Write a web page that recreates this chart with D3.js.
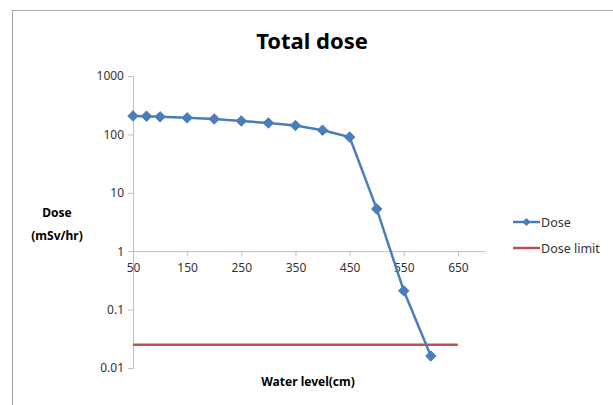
<!DOCTYPE html>
<html>
<head>
<meta charset="utf-8">
<script src="https://cdn.jsdelivr.net/npm/d3@7"></script>
<style>
  body { margin: 0; background: #fff; }
  text { font-family: "Noto Sans", "DejaVu Sans", sans-serif; fill: #333; }
</style>
</head>
<body>
<svg id="chart" width="613" height="405"></svg>
<script>
// water level (cm) and dose (mSv/hr)
const levels = [50, 75, 100, 150, 200, 250, 300, 350, 400, 450, 500, 550, 600];
const doses = [207, 205, 200, 192, 184, 170, 157, 142, 118, 90, 5.3, 0.21, 0.016];
const limitLevels = [50, 650];
const limitDose = [0.025, 0.025];
const xTicks = [50, 150, 250, 350, 450, 550, 650];
const yTicks = [0.01, 0.1, 1, 10, 100, 1000];

const svg = d3.select('#chart');

// chart border
svg.append('rect')
    .attr('x', 12.5).attr('y', 10.5)
    .attr('width', 640).attr('height', 420)
    .attr('fill', 'none')
    .attr('stroke', '#a6a6a6');

const x = d3.scaleLinear().domain([50, 700]).range([133, 485]);
const y = d3.scaleLog().domain([0.01, 1000]).range([368, 76]);

// y axis
const yAxis = svg.append('g')
    .attr('transform', `translate(${x(50)},0)`)
    .call(d3.axisLeft(y).tickValues(yTicks).tickSize(5).tickFormat(d => d3.format('~g')(d)));
yAxis.select('.domain').attr('stroke', '#bfbfbf');
yAxis.selectAll('.tick line').attr('stroke', '#bfbfbf');
yAxis.selectAll('.tick text').attr('font-size', 12).attr('x', -9);

// x axis crosses at 1
const xAxis = svg.append('g')
    .attr('transform', `translate(0,${y(1)})`)
    .call(d3.axisBottom(x).tickValues(xTicks).tickSize(5).tickSizeOuter(0));
xAxis.select('.domain').attr('stroke', '#bfbfbf');
xAxis.selectAll('.tick line').attr('stroke', '#bfbfbf');
xAxis.selectAll('.tick text').attr('font-size', 12).attr('y', 12);

// dose limit line
const limitData = limitLevels.map((l, i) => [l, limitDose[i]]);
svg.append('path')
    .datum(limitData)
    .attr('fill', 'none')
    .attr('stroke', '#c0504d')
    .attr('stroke-width', 2.5)
    .attr('d', d3.line().x(d => x(d[0])).y(d => y(d[1])));

// dose line
const doseData = levels.map((l, i) => [l, doses[i]]);
svg.append('path')
    .datum(doseData)
    .attr('fill', 'none')
    .attr('stroke', '#4a7ebb')
    .attr('stroke-width', 2.5)
    .attr('d', d3.line().x(d => x(d[0])).y(d => y(d[1])));

const diamond = d3.symbol().type(d3.symbolDiamond2).size(70);
svg.append('g').selectAll('path')
    .data(doseData)
    .enter()
    .append('path')
    .attr('d', diamond)
    .attr('transform', d => `translate(${x(d[0])},${y(d[1])})`)
    .attr('fill', '#4a7ebb')
    .attr('stroke', '#4a7ebb');

// title and labels
svg.append('text')
    .attr('x', 312).attr('y', 49)
    .attr('text-anchor', 'middle')
    .attr('font-size', 22).attr('font-weight', 'bold')
    .style('fill', '#000')
    .text('Total dose');

svg.append('text')
    .attr('x', 57).attr('y', 217)
    .attr('text-anchor', 'middle')
    .attr('font-size', 12).attr('font-weight', 'bold')
    .style('fill', '#000')
    .text('Dose');
svg.append('text')
    .attr('x', 57).attr('y', 240)
    .attr('text-anchor', 'middle')
    .attr('font-size', 12).attr('font-weight', 'bold')
    .style('fill', '#000')
    .text('(mSv/hr)');

svg.append('text')
    .attr('x', 308).attr('y', 386)
    .attr('text-anchor', 'middle')
    .attr('font-size', 12).attr('font-weight', 'bold')
    .style('fill', '#000')
    .text('Water level(cm)');

// legend
const legend = svg.append('g');
legend.append('line')
    .attr('x1', 513).attr('x2', 540).attr('y1', 222).attr('y2', 222)
    .attr('stroke', '#4a7ebb').attr('stroke-width', 2.5);
legend.append('path')
    .attr('d', d3.symbol().type(d3.symbolDiamond2).size(40))
    .attr('transform', 'translate(526.5,222)')
    .attr('fill', '#4a7ebb');
legend.append('text')
    .attr('x', 541).attr('y', 226.5)
    .attr('font-size', 12.5)
    .text('Dose');
legend.append('line')
    .attr('x1', 513).attr('x2', 540).attr('y1', 248).attr('y2', 248)
    .attr('stroke', '#c0504d').attr('stroke-width', 2.5);
legend.append('text')
    .attr('x', 541).attr('y', 252.5)
    .attr('font-size', 12.5)
    .text('Dose limit');
</script>
</body>
</html>
